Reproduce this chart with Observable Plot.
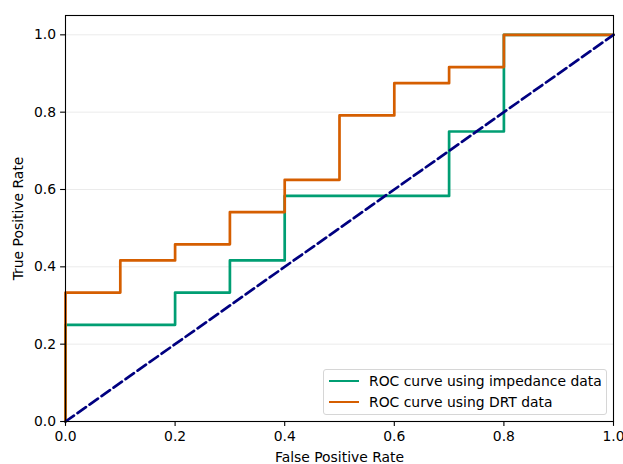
<!DOCTYPE html>
<html>
<head>
<meta charset="utf-8">
<script src="https://cdn.jsdelivr.net/npm/d3@7"></script>
<script src="https://cdn.jsdelivr.net/npm/@observablehq/plot@0.6"></script>
<style>
  html, body { margin: 0; padding: 0; background: #fff; }
  #wrap { position: relative; width: 623px; height: 464px; font-family: "DejaVu Sans", sans-serif; }
  #wrap svg { overflow: visible; }
  #legend { position: absolute; left: 323px; top: 369px; width: 282px; height: 44px;
    border: 1px solid #d6d6d6; border-radius: 3px; background: rgba(255,255,255,0.8);
    font-size: 13.9px; color: #000; box-sizing: content-box; }
  .row { position: absolute; left: 5px; height: 16px; display: flex; align-items: center; white-space: nowrap; }
  .sw { width: 30px; height: 2.7px; margin-right: 10px; }
</style>
</head>
<body>
<div id="wrap"></div>
<script>
const impFpr = [0, 0, 0.2, 0.2, 0.3, 0.3, 0.4, 0.4, 0.7, 0.7, 0.8, 0.8, 1.0];
const impTpr = [0, 0.25, 0.25, 0.3333, 0.3333, 0.4167, 0.4167, 0.5833, 0.5833, 0.75, 0.75, 1.0, 1.0];
const drtFpr = [0, 0, 0.1, 0.1, 0.2, 0.2, 0.3, 0.3, 0.4, 0.4, 0.5, 0.5, 0.6, 0.6, 0.7, 0.7, 0.8, 0.8, 1.0];
const drtTpr = [0, 0.3333, 0.3333, 0.4167, 0.4167, 0.4583, 0.4583, 0.5417, 0.5417, 0.625, 0.625, 0.7917, 0.7917, 0.875, 0.875, 0.9167, 0.9167, 1.0, 1.0];
const chanceX = [0, 1];
const chanceY = [0, 1];
const xTicks = [0, 0.2, 0.4, 0.6, 0.8, 1.0];
const yTicks = [0, 0.2, 0.4, 0.6, 0.8, 1.0];
const seriesNames = ["ROC curve using impedance data", "ROC curve using DRT data"];
const seriesColors = ["#009E73", "#D55E00"];

const imp = impFpr.map((x, i) => ({x, y: impTpr[i]}));
const drt = drtFpr.map((x, i) => ({x, y: drtTpr[i]}));
const chance = chanceX.map((x, i) => ({x, y: chanceY[i]}));

const chart = Plot.plot({
  width: 623,
  height: 464,
  marginLeft: 65,
  marginRight: 10,
  marginTop: 15,
  marginBottom: 43,
  style: { fontFamily: "DejaVu Sans, sans-serif", fontSize: "13.9px", color: "#000", background: "#fff", overflow: "visible" },
  x: { domain: [0, 1] },
  y: { domain: [0, 1.05] },
  marks: [
    Plot.gridY(yTicks.filter(d => d > 0), { stroke: "#ebebeb", strokeOpacity: 1, strokeWidth: 1 }),
    Plot.line(imp, { x: "x", y: "y", stroke: seriesColors[0], strokeWidth: 2.7, curve: "linear" }),
    Plot.line(drt, { x: "x", y: "y", stroke: seriesColors[1], strokeWidth: 2.7, curve: "linear" }),
    Plot.line(chance, { x: "x", y: "y", stroke: "navy", strokeWidth: 2.7, strokeDasharray: "10.3,4.4" }),
    Plot.frame({ stroke: "#000", strokeWidth: 1.1 }),
    Plot.axisX(xTicks, { tickFormat: d3.format(".1f"), tickSize: 4.9, tickPadding: 4.5, strokeWidth: 1.1, strokeOpacity: 1, label: "False Positive Rate", labelAnchor: "center", labelArrow: "none", labelOffset: 40, fontSize: 13.9 }),
    Plot.axisY(yTicks, { tickFormat: d3.format(".1f"), tickSize: 4.9, tickPadding: 4.5, strokeWidth: 1.1, strokeOpacity: 1, label: "True Positive Rate", labelAnchor: "center", labelArrow: "none", labelOffset: 52, fontSize: 13.9 })
  ]
});
const wrap = document.getElementById("wrap");
wrap.appendChild(chart);

const legend = document.createElement("div");
legend.id = "legend";
seriesNames.forEach((name, i) => {
  const row = document.createElement("div");
  row.className = "row";
  row.style.top = (3 + i * 21) + "px";
  const sw = document.createElement("div");
  sw.className = "sw";
  sw.style.background = seriesColors[i];
  const t = document.createElement("span");
  t.textContent = name;
  row.appendChild(sw);
  row.appendChild(t);
  legend.appendChild(row);
});
wrap.appendChild(legend);
</script>
</body>
</html>
